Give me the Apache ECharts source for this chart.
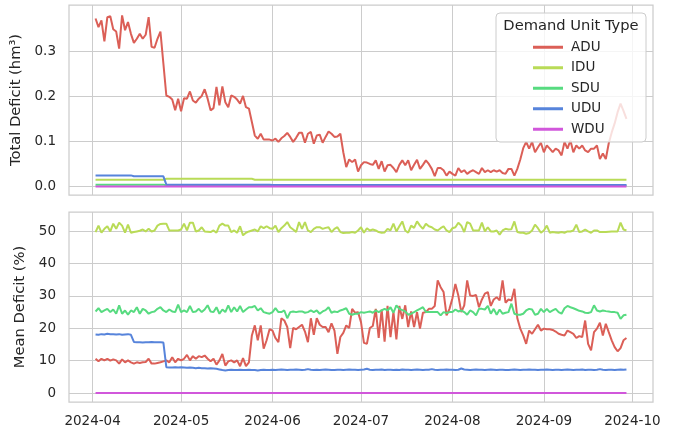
<!DOCTYPE html>
<html>
<head>
<meta charset="utf-8">
<script src="https://cdn.jsdelivr.net/npm/echarts@6/dist/echarts.min.js"></script>
<style>
  html, body { margin: 0; padding: 0; background: #fff; }
  #box { width: 676px; height: 430px; }
</style>
</head>
<body>
<div id="box"></div>
<script>
// daily values, 2024-04-02 .. 2024-09-29 (181 days)
var firstDay = '2024-04-02';
var monthTicks = ['2024-04', '2024-05', '2024-06', '2024-07', '2024-08', '2024-09', '2024-10'];
var unitTypes = ['ADU', 'IDU', 'SDU', 'UDU', 'WDU'];
var colors = ['#db5f57', '#b9db57', '#57db80', '#5784db', '#d157db'];

// Total Deficit (hm3)
var topADU = [
    0.373, 0.354, 0.369, 0.322, 0.376, 0.378, 0.349, 0.344, 0.306, 0.380, 0.347, 0.365, 0.339, 0.319, 0.328,
    0.339, 0.328, 0.337, 0.376, 0.310, 0.308, 0.328, 0.344, 0.273, 0.202, 0.199, 0.193, 0.169, 0.195,
    0.167, 0.196, 0.195, 0.211, 0.191, 0.186, 0.195, 0.201, 0.216, 0.195, 0.169, 0.174, 0.221, 0.180, 0.222,
    0.187, 0.176, 0.202, 0.199, 0.193, 0.184, 0.201, 0.176, 0.173, 0.143, 0.113, 0.106, 0.117, 0.104, 0.104, 0.104,
    0.102, 0.106, 0.099, 0.107, 0.112, 0.119, 0.110, 0.099, 0.108, 0.119, 0.119, 0.097, 0.117, 0.121, 0.095,
    0.113, 0.115, 0.097, 0.110, 0.122, 0.117, 0.110, 0.111, 0.117, 0.076, 0.043, 0.060, 0.054, 0.060, 0.033,
    0.047, 0.054, 0.053, 0.050, 0.048, 0.058, 0.039, 0.056, 0.033, 0.047, 0.048, 0.041, 0.032, 0.048, 0.058,
    0.047, 0.058, 0.036, 0.048, 0.059, 0.039, 0.048, 0.058, 0.050, 0.039, 0.023, 0.041, 0.041, 0.036, 0.024, 0.033,
    0.028, 0.024, 0.041, 0.032, 0.036, 0.028, 0.033, 0.036, 0.032, 0.028, 0.041, 0.032, 0.036, 0.032, 0.036,
    0.033, 0.036, 0.030, 0.028, 0.039, 0.039, 0.024, 0.039, 0.060, 0.085, 0.099, 0.084, 0.099, 0.076, 0.087, 0.097,
    0.076, 0.091, 0.084, 0.076, 0.084, 0.080, 0.069, 0.099, 0.084, 0.102, 0.076, 0.091, 0.084, 0.091, 0.080,
    0.076, 0.084, 0.084, 0.091, 0.061, 0.073, 0.061, 0.096, 0.120, 0.140, 0.165, 0.184, 0.168, 0.150
];
var topIDU = [
    0.015, 0.015, 0.015, 0.015, 0.015, 0.015, 0.015, 0.015, 0.015, 0.015, 0.015, 0.015, 0.015, 0.015, 0.015,
    0.015, 0.015, 0.015, 0.015, 0.015, 0.015, 0.015, 0.015, 0.015, 0.017, 0.017, 0.017, 0.017, 0.017,
    0.017, 0.017, 0.017, 0.017, 0.017, 0.017, 0.017, 0.017, 0.017, 0.017, 0.017, 0.017, 0.017, 0.017, 0.017,
    0.017, 0.017, 0.017, 0.017, 0.017, 0.017, 0.017, 0.017, 0.017, 0.017, 0.015, 0.015, 0.015, 0.015, 0.015, 0.015,
    0.015, 0.015, 0.015, 0.015, 0.015, 0.015, 0.015, 0.015, 0.015, 0.015, 0.015, 0.015, 0.015, 0.015, 0.015,
    0.015, 0.015, 0.015, 0.015, 0.015, 0.015, 0.015, 0.015, 0.015, 0.015, 0.015, 0.015, 0.015, 0.015, 0.015,
    0.015, 0.015, 0.015, 0.015, 0.015, 0.015, 0.015, 0.015, 0.015, 0.015, 0.015, 0.015, 0.015, 0.015, 0.015,
    0.015, 0.015, 0.015, 0.015, 0.015, 0.015, 0.015, 0.015, 0.015, 0.015, 0.015, 0.015, 0.015, 0.015, 0.015, 0.015,
    0.015, 0.015, 0.015, 0.015, 0.015, 0.015, 0.015, 0.015, 0.015, 0.015, 0.015, 0.015, 0.015, 0.015, 0.015,
    0.015, 0.015, 0.015, 0.015, 0.015, 0.015, 0.015, 0.015, 0.015, 0.015, 0.015, 0.015, 0.015, 0.015, 0.015, 0.015,
    0.015, 0.015, 0.015, 0.015, 0.015, 0.015, 0.015, 0.015, 0.015, 0.015, 0.015, 0.015, 0.015, 0.015, 0.015,
    0.015, 0.015, 0.015, 0.015, 0.015, 0.015, 0.015, 0.015, 0.015, 0.015, 0.015, 0.015, 0.015, 0.015
];
var topSDU = [
    0.004, 0.004, 0.004, 0.004, 0.004, 0.004, 0.004, 0.004, 0.004, 0.004, 0.004, 0.004, 0.004, 0.004, 0.004,
    0.004, 0.004, 0.004, 0.004, 0.004, 0.004, 0.004, 0.004, 0.004, 0.002, 0.002, 0.002, 0.002, 0.002,
    0.002, 0.002, 0.002, 0.002, 0.002, 0.002, 0.002, 0.002, 0.002, 0.002, 0.002, 0.002, 0.002, 0.002, 0.002,
    0.002, 0.002, 0.002, 0.002, 0.002, 0.002, 0.002, 0.002, 0.002, 0.002, 0.002, 0.002, 0.002, 0.002, 0.002, 0.002,
    0.002, 0.002, 0.002, 0.002, 0.002, 0.002, 0.002, 0.002, 0.002, 0.002, 0.002, 0.002, 0.002, 0.002, 0.002,
    0.002, 0.002, 0.002, 0.002, 0.002, 0.002, 0.002, 0.002, 0.002, 0.002, 0.002, 0.002, 0.002, 0.002, 0.002,
    0.002, 0.002, 0.002, 0.002, 0.002, 0.002, 0.002, 0.002, 0.002, 0.002, 0.002, 0.002, 0.002, 0.002, 0.002,
    0.002, 0.002, 0.002, 0.002, 0.002, 0.002, 0.002, 0.002, 0.002, 0.002, 0.002, 0.002, 0.002, 0.002, 0.002, 0.002,
    0.002, 0.002, 0.002, 0.002, 0.002, 0.002, 0.002, 0.002, 0.002, 0.002, 0.002, 0.002, 0.002, 0.002, 0.002,
    0.002, 0.002, 0.002, 0.002, 0.002, 0.002, 0.002, 0.002, 0.002, 0.002, 0.002, 0.002, 0.002, 0.002, 0.002, 0.002,
    0.002, 0.002, 0.002, 0.002, 0.002, 0.002, 0.002, 0.002, 0.002, 0.002, 0.002, 0.002, 0.002, 0.002, 0.002,
    0.002, 0.002, 0.002, 0.002, 0.002, 0.002, 0.002, 0.002, 0.002, 0.002, 0.002, 0.002, 0.002, 0.002
];
var topUDU = [
    0.0245, 0.0245, 0.0245, 0.0245, 0.0245, 0.0245, 0.0245, 0.0245, 0.0245, 0.0245, 0.0245, 0.0245, 0.0245, 0.0225, 0.0225,
    0.0225, 0.0225, 0.0225, 0.0225, 0.0225, 0.0225, 0.0225, 0.0225, 0.0225, 0.004, 0.004, 0.004, 0.004, 0.004,
    0.004, 0.004, 0.004, 0.004, 0.004, 0.004, 0.004, 0.004, 0.004, 0.004, 0.004, 0.004, 0.004, 0.004, 0.004,
    0.0035, 0.0035, 0.0035, 0.0035, 0.0035, 0.0035, 0.0035, 0.0035, 0.0035, 0.0035, 0.0035, 0.0035, 0.0035, 0.0035, 0.0035, 0.0035,
    0.003, 0.003, 0.003, 0.003, 0.003, 0.003, 0.003, 0.003, 0.003, 0.003, 0.003, 0.003, 0.003, 0.003, 0.003,
    0.003, 0.003, 0.003, 0.003, 0.003, 0.003, 0.003, 0.003, 0.003, 0.003, 0.003, 0.003, 0.003, 0.003, 0.003,
    0.003, 0.003, 0.003, 0.003, 0.003, 0.003, 0.003, 0.003, 0.003, 0.003, 0.003, 0.003, 0.003, 0.003, 0.003,
    0.003, 0.003, 0.003, 0.003, 0.003, 0.003, 0.003, 0.003, 0.003, 0.003, 0.003, 0.003, 0.003, 0.003, 0.003, 0.003,
    0.003, 0.003, 0.003, 0.003, 0.003, 0.003, 0.003, 0.003, 0.003, 0.003, 0.003, 0.003, 0.003, 0.003, 0.003,
    0.003, 0.003, 0.003, 0.003, 0.003, 0.003, 0.003, 0.003, 0.003, 0.003, 0.003, 0.003, 0.003, 0.003, 0.003, 0.003,
    0.003, 0.003, 0.003, 0.003, 0.003, 0.003, 0.003, 0.003, 0.003, 0.003, 0.003, 0.003, 0.003, 0.003, 0.003,
    0.003, 0.003, 0.003, 0.003, 0.003, 0.003, 0.003, 0.003, 0.003, 0.003, 0.003, 0.003, 0.003, 0.003
];
var topWDU = [
    0, 0, 0, 0, 0, 0, 0, 0, 0, 0, 0, 0, 0, 0, 0, 0, 0, 0, 0, 0, 0, 0, 0, 0, 0, 0, 0, 0, 0,
    0, 0, 0, 0, 0, 0, 0, 0, 0, 0, 0, 0, 0, 0, 0, 0, 0, 0, 0, 0, 0, 0, 0, 0, 0, 0, 0, 0, 0, 0, 0,
    0, 0, 0, 0, 0, 0, 0, 0, 0, 0, 0, 0, 0, 0, 0, 0, 0, 0, 0, 0, 0, 0, 0, 0, 0, 0, 0, 0, 0, 0,
    0, 0, 0, 0, 0, 0, 0, 0, 0, 0, 0, 0, 0, 0, 0, 0, 0, 0, 0, 0, 0, 0, 0, 0, 0, 0, 0, 0, 0, 0, 0,
    0, 0, 0, 0, 0, 0, 0, 0, 0, 0, 0, 0, 0, 0, 0, 0, 0, 0, 0, 0, 0, 0, 0, 0, 0, 0, 0, 0, 0, 0, 0,
    0, 0, 0, 0, 0, 0, 0, 0, 0, 0, 0, 0, 0, 0, 0, 0, 0, 0, 0, 0, 0, 0, 0, 0, 0, 0, 0, 0, 0
];

// Mean Deficit (%)
var botADU = [
    10.6, 9.8, 10.6, 10.1, 10.6, 10.0, 10.4, 10.1, 9.1, 10.4, 9.5, 10.1, 9.5, 9.1, 9.5,
    9.3, 9.5, 9.6, 10.6, 9.1, 9.1, 9.3, 9.5, 9.8, 10.1, 9.5, 11.1, 9.5, 10.6,
    10.1, 10.6, 11.8, 10.1, 11.4, 10.6, 11.4, 11.1, 11.6, 10.6, 9.8, 10.6, 8.8, 10.1, 12.1,
    8.5, 9.8, 10.1, 9.5, 10.1, 8.3, 10.8, 8.3, 9.5, 17.8, 20.9, 16.3, 20.9, 13.7, 16.3, 19.7,
    19.3, 17.0, 15.7, 23.1, 22.4, 20.4, 13.9, 20.1, 19.7, 20.4, 21.1, 19.0, 15.7, 23.1, 18.0,
    23.1, 21.1, 20.4, 20.4, 18.8, 21.5, 19.3, 12.1, 17.3, 18.6, 20.9, 20.1, 26.0, 24.8, 25.0,
    21.9, 15.5, 15.2, 20.1, 20.7, 26.0, 17.0, 25.8, 15.9, 26.9, 17.3, 25.0, 16.6, 26.9, 22.9,
    27.1, 20.4, 25.2, 20.4, 25.0, 19.9, 24.8, 25.0, 26.0, 26.0, 26.9, 34.8, 32.7, 31.2, 24.0, 26.0,
    29.3, 33.7, 30.1, 25.0, 27.1, 34.8, 30.1, 30.0, 30.3, 26.5, 28.9, 30.7, 31.2, 26.9, 28.9,
    29.6, 28.6, 34.8, 27.9, 28.9, 28.6, 32.2, 23.1, 19.9, 17.8, 15.2, 19.3, 18.3, 19.7, 21.1, 19.3,
    19.9, 19.7, 19.7, 19.5, 19.0, 18.3, 18.0, 17.8, 19.3, 18.8, 18.3, 17.0, 17.6, 17.3, 22.4,
    15.2, 13.2, 18.8, 19.9, 21.7, 17.8, 21.4, 18.8, 16.3, 14.2, 12.9, 13.9, 16.3, 17.0
];
var botIDU = [
    49.7, 51.7, 49.5, 50.7, 51.5, 49.9, 52.3, 50.7, 52.6, 51.7, 49.5, 52.0, 49.5, 49.7, 49.9,
    50.1, 50.5, 49.9, 50.7, 49.9, 50.2, 51.7, 52.2, 52.3, 52.3, 50.2, 50.2, 50.2, 50.2,
    50.5, 52.3, 50.2, 52.6, 52.6, 49.9, 50.2, 51.2, 49.9, 49.8, 49.7, 50.2, 49.5, 51.7, 52.3,
    51.7, 51.7, 49.7, 50.2, 49.5, 51.5, 48.7, 49.5, 49.9, 50.2, 50.5, 49.9, 51.5, 50.9, 51.5, 50.9,
    50.7, 51.7, 49.7, 50.9, 51.7, 52.8, 51.2, 50.5, 49.7, 52.8, 50.7, 52.8, 50.2, 49.7, 50.7,
    51.2, 51.2, 50.7, 51.0, 51.2, 49.7, 50.7, 51.2, 49.7, 49.4, 49.5, 49.5, 49.7, 49.5, 50.2,
    51.2, 49.5, 50.9, 50.2, 50.5, 50.2, 49.7, 49.5, 49.6, 50.7, 50.2, 52.3, 49.9, 51.5, 53.0,
    50.2, 49.5, 51.7, 51.0, 53.0, 51.7, 50.7, 52.3, 51.5, 51.2, 50.5, 50.2, 50.9, 51.5, 50.2, 49.7,
    50.9, 51.2, 52.6, 51.7, 49.7, 52.8, 52.3, 50.2, 50.2, 50.2, 52.6, 49.9, 51.2, 49.9, 49.9,
    50.2, 48.9, 50.2, 50.7, 50.5, 50.6, 53.0, 49.7, 49.5, 49.5, 49.2, 49.4, 50.2, 52.0, 50.9, 49.5,
    50.2, 51.7, 49.5, 49.7, 49.6, 49.5, 49.7, 49.5, 49.9, 49.9, 50.2, 52.0, 49.7, 49.9, 50.5,
    49.9, 49.5, 50.2, 50.2, 49.7, 49.7, 49.7, 49.8, 49.9, 49.9, 49.9, 52.6, 50.5, 50.2
];
var botSDU = [
    25.2, 26.2, 25.0, 25.5, 26.0, 25.0, 25.8, 24.5, 27.1, 24.5, 25.5, 24.2, 25.5, 25.0, 26.5,
    24.5, 26.0, 25.5, 24.5, 25.0, 25.2, 26.0, 26.5, 25.5, 25.0, 25.8, 25.2, 25.0, 27.3,
    25.0, 25.5, 25.0, 26.9, 25.0, 25.2, 26.0, 25.0, 25.8, 27.1, 25.2, 25.0, 26.5, 24.5, 25.8,
    25.0, 27.1, 25.0, 26.5, 25.2, 26.9, 25.0, 25.8, 26.5, 26.5, 26.9, 25.5, 26.2, 25.0, 24.7, 24.5,
    25.0, 26.2, 25.0, 25.0, 25.5, 23.1, 25.0, 25.2, 25.0, 25.2, 25.2, 24.8, 25.0, 25.5, 25.0,
    25.5, 24.5, 25.2, 25.6, 26.5, 24.8, 25.2, 25.0, 25.5, 25.8, 26.2, 24.5, 24.2, 24.5, 24.5,
    25.0, 24.8, 25.0, 25.2, 24.8, 25.5, 25.0, 25.5, 26.0, 25.5, 26.5, 24.8, 27.1, 26.0, 25.6,
    25.2, 24.2, 24.5, 25.0, 25.5, 26.0, 26.5, 25.0, 25.0, 25.0, 25.0, 25.0, 24.0, 25.0, 24.7, 25.0,
    25.0, 25.8, 25.2, 25.5, 25.0, 24.2, 25.5, 25.0, 24.0, 26.0, 26.0, 25.8, 26.9, 24.5, 26.0,
    24.2, 25.8, 24.5, 24.8, 25.0, 27.6, 24.5, 24.2, 24.2, 24.5, 25.5, 26.0, 25.8, 24.2, 24.5, 26.0,
    25.0, 26.0, 25.0, 25.5, 26.0, 25.0, 24.5, 26.2, 26.9, 26.5, 26.2, 25.8, 25.4, 25.2, 24.8,
    24.7, 25.0, 27.1, 25.5, 25.2, 25.5, 25.3, 25.2, 25.0, 25.0, 24.8, 22.9, 24.0, 24.2
];
var botUDU = [
    18.1, 18.0, 18.2, 18.1, 18.3, 18.2, 18.2, 18.1, 18.2, 18.0, 18.1, 18.2, 18.0, 15.8, 15.7,
    15.7, 15.6, 15.7, 15.7, 15.8, 15.7, 15.7, 15.7, 15.6, 8.0, 7.9, 7.9, 8.0, 7.9,
    8.0, 7.9, 7.8, 7.9, 7.8, 7.7, 7.8, 7.7, 7.7, 7.6, 7.7, 7.6, 7.5, 7.3, 7.1,
    7.0, 7.1, 7.2, 7.1, 7.1, 7.2, 7.1, 7.1, 7.2, 7.1, 7.1, 7.0, 7.1, 7.2, 7.1, 7.1,
    7.2, 7.1, 7.2, 7.3, 7.2, 7.1, 7.2, 7.2, 7.3, 7.2, 7.1, 7.2, 7.4, 7.2, 7.1,
    7.2, 7.1, 7.2, 7.3, 7.2, 7.1, 7.1, 7.2, 7.2, 7.1, 7.2, 7.3, 7.2, 7.2, 7.1,
    7.2, 7.3, 7.5, 7.2, 7.1, 7.2, 7.2, 7.3, 7.1, 7.2, 7.2, 7.1, 7.2, 7.1, 7.3,
    7.2, 7.2, 7.1, 7.2, 7.3, 7.2, 7.1, 7.2, 7.2, 7.4, 7.2, 7.1, 7.2, 7.2, 7.3, 7.2,
    7.2, 7.1, 7.2, 7.6, 7.3, 7.2, 7.1, 7.2, 7.3, 7.2, 7.2, 7.1, 7.2, 7.3, 7.2,
    7.1, 7.2, 7.2, 7.1, 7.1, 7.2, 7.3, 7.2, 7.1, 7.2, 7.2, 7.3, 7.2, 7.2, 7.1, 7.2,
    7.2, 7.3, 7.2, 7.1, 7.2, 7.2, 7.1, 7.2, 7.3, 7.2, 7.1, 7.2, 7.2, 7.3, 7.1,
    7.2, 7.2, 7.1, 7.2, 7.4, 7.2, 7.1, 7.2, 7.2, 7.1, 7.2, 7.3, 7.2, 7.3
];
var botWDU = topWDU;

var topTicks = [0, 0.1, 0.2, 0.3];
var botTicks = [0, 10, 20, 30, 40, 50];

var DAY = 86400000;
var t0 = Date.parse(firstDay + 'T00:00:00Z');
var dates = topADU.map(function (v, i) { return t0 + i * DAY; });
var monthValues = monthTicks.map(function (m) { return Date.parse(m + '-01T00:00:00Z'); });
var xMin = t0 - 9 * DAY;
var xMax = dates[dates.length - 1] + 9 * DAY;

function pairs(arr) {
    return arr.map(function (v, i) { return [dates[i], v]; });
}
function monthLabel(v) {
    var d = new Date(v);
    var m = d.getUTCMonth() + 1;
    return d.getUTCFullYear() + '-' + (m < 10 ? '0' + m : m);
}

var FONT = 'DejaVu Sans';
var TEXT = '#262626';
var GRID = '#cccccc';

function xAxisFor(idx, showLabels) {
    return {
        type: 'value',
        gridIndex: idx,
        min: xMin,
        max: xMax,
        axisLine: { show: false },
        axisTick: { show: false, customValues: monthValues },
        axisLabel: {
            show: showLabels,
            customValues: monthValues,
            formatter: monthLabel,
            color: TEXT,
            fontFamily: FONT,
            fontSize: 13.5,
            margin: 12
        },
        splitLine: { show: true, lineStyle: { color: GRID, width: 1 } }
    };
}
function yAxisFor(idx, min, max, ticks, name, gap, fmt) {
    return {
        type: 'value',
        gridIndex: idx,
        min: min,
        max: max,
        name: name,
        nameLocation: 'middle',
        nameGap: gap,
        nameTextStyle: { color: TEXT, fontFamily: FONT, fontSize: 14.7 },
        axisLine: { show: false },
        axisTick: { show: false, customValues: ticks },
        axisLabel: {
            customValues: ticks,
            formatter: fmt,
            color: TEXT,
            fontFamily: FONT,
            fontSize: 13.5,
            margin: 13
        },
        splitLine: { show: true, lineStyle: { color: GRID, width: 1 } }
    };
}

var topData = [topADU, topIDU, topSDU, topUDU, topWDU];
var botData = [botADU, botIDU, botSDU, botUDU, botWDU];
var series = [];
[topData, botData].forEach(function (group, g) {
    group.forEach(function (arr, k) {
        series.push({
            name: unitTypes[k],
            type: 'line',
            xAxisIndex: g,
            yAxisIndex: g,
            data: pairs(arr),
            symbol: 'none',
            showSymbol: false,
            lineStyle: { color: colors[k], width: 2 },
            itemStyle: { color: colors[k] },
            emphasis: { disabled: true }
        });
    });
});

var chart = echarts.init(document.getElementById('box'), null, { renderer: 'canvas' });
var option = {
    animation: false,
    backgroundColor: '#ffffff',
    color: colors,
    grid: [
        { left: 69, right: 23, top: 5, height: 190, show: true, borderColor: GRID, borderWidth: 1.25, backgroundColor: 'transparent' },
        { left: 69, right: 23, top: 212, height: 190, show: true, borderColor: GRID, borderWidth: 1.25, backgroundColor: 'transparent' }
    ],
    xAxis: [xAxisFor(0, false), xAxisFor(1, true)],
    yAxis: [
        yAxisFor(0, -0.019, 0.403, topTicks, 'Total Deficit (hm³)', 39, function (v) { return v.toFixed(1); }),
        yAxisFor(1, -2.75, 55.9, botTicks, 'Mean Deficit (%)', 32, function (v) { return String(v); })
    ],
    graphic: [
        {
            type: 'rect',
            z: 50,
            shape: { x: 496, y: 13, width: 150, height: 129, r: 4 },
            style: { fill: 'rgba(255,255,255,0.8)', stroke: '#cccccc', lineWidth: 1 }
        },
        {
            type: 'text',
            z: 51,
            x: 571,
            y: 26,
            style: {
                text: 'Demand Unit Type',
                fill: TEXT,
                font: '14.7px "DejaVu Sans"',
                align: 'center',
                verticalAlign: 'middle'
            }
        }
    ],
    legend: {
        z: 60,
        orient: 'vertical',
        left: 533,
        top: 40,
        padding: 0,
        icon: 'rect',
        itemWidth: 30,
        itemHeight: 3,
        itemGap: 6,
        data: unitTypes,
        textStyle: { color: TEXT, fontFamily: FONT, fontSize: 13.5, lineHeight: 14.5, padding: [0, 0, 0, 3] }
    },
    series: series
};
chart.setOption(option);
</script>
</body>
</html>
